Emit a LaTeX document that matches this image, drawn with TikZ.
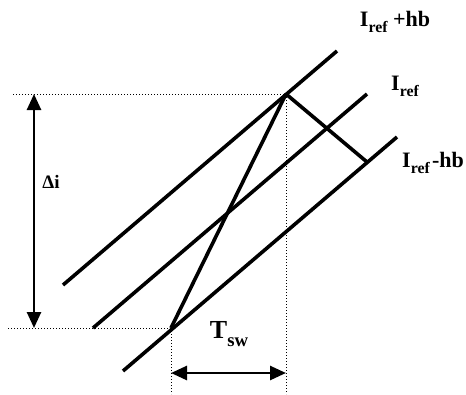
\documentclass[tikz,border=0pt]{standalone}
\usepackage{fontspec}
\setmainfont{Liberation Serif}
\usetikzlibrary{arrows.meta}
\newcommand{\sbs}[1]{\raisebox{-0.28em}{\fontsize{0.72em}{0.8em}\selectfont #1}}
\begin{document}
\begin{tikzpicture}[x=1pt,y=-1pt,
  band/.style={line width=3.6pt},
  guide/.style={dotted,line width=1pt},
  dimarrow/.style={line width=2.6pt,{Triangle[length=16pt,width=14pt]}-{Triangle[length=16pt,width=14pt]}},
  lbl/.style={font=\bfseries\fontsize{22}{24}\selectfont,inner sep=0pt}]
\useasboundingbox (0,0) rectangle (466,394);
% band lines
\coordinate (ua) at (63,285); \coordinate (ub) at (337,51);
\coordinate (ma) at (93,328); \coordinate (mb) at (367,94);
\coordinate (la) at (123,371); \coordinate (lb) at (397,137);
\coordinate (P) at (286,94); \coordinate (Q) at (171,328);
\coordinate (R) at (367,162);
\draw[band] (ua) -- (ub);
\draw[band] (ma) -- (mb);
\draw[band] (la) -- (lb);
\draw[band] (Q) -- (P);
\draw[band] (P) -- (R);
% guides
\coordinate (tl) at (13,94); \coordinate (bl) at (8,328);
\coordinate (pd) at (286,394); \coordinate (qd) at (171,394);
\draw[guide] (tl) -- (P);
\draw[guide] (bl) -- (Q);
\draw[guide] (P) -- (pd);
\draw[guide] (Q) -- (qd);
% dimension arrows
\coordinate (da) at (34,94); \coordinate (db) at (34,328);
\draw[dimarrow] (da) -- (db);
\coordinate (ta) at (171,373); \coordinate (tb) at (286,373);
\draw[dimarrow] (ta) -- (tb);
% labels
\node[lbl,font=\bfseries\fontsize{19}{21}\selectfont] (di) at (51,182) {Δi};
\node[lbl,font=\bfseries\fontsize{26}{28}\selectfont] (tsw) at (229,334) {T\sbs{sw}};
\node[lbl] (iu) at (395,22) {I\sbs{ref} +hb};
\node[lbl] (im) at (405,86) {I\sbs{ref}};
\node[lbl] (il) at (433,163) {I\sbs{ref}\kern0.1em-hb};
\end{tikzpicture}
\end{document}
